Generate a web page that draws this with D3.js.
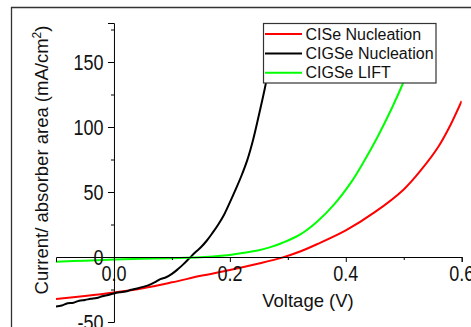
<!DOCTYPE html>
<html><head><meta charset="utf-8">
<script src="https://cdn.jsdelivr.net/npm/d3@7/dist/d3.min.js"></script>
<style>html,body{margin:0;padding:0;background:#fff;}svg{display:block;font-family:"Liberation Sans",Arial,sans-serif;}</style>
</head><body>
<svg id="c" width="471" height="327"></svg>
<script>
const seriesNames = ["CISe Nucleation", "CIGSe Nucleation", "CIGSe LIFT"];
const seriesColors = ["#ff0000", "#000000", "#00ff00"];
// [voltage V, current density mA/cm2]
const ciseNucleation = [[-0.10,-32.3],[-0.05,-30],[0.0,-27.3],[0.05,-24],[0.10,-19.5],[0.15,-14.5],[0.20,-10],[0.25,-5],[0.29,-0.5],[0.32,4],[0.35,9.8],[0.40,20.5],[0.45,34.5],[0.50,52],[0.53,67],[0.56,85],[0.58,101],[0.60,120]];
const cigseNucleation = [[-0.10,-38],[-0.09,-37.3],[-0.08,-35.6],[-0.07,-35.2],[-0.06,-33.6],[-0.05,-33],[-0.04,-32.2],[-0.03,-31.6],[-0.02,-30.2],[-0.01,-29.2],[0.0,-28],[0.01,-27.2],[0.02,-26.6],[0.03,-25.2],[0.04,-24.2],[0.05,-23],[0.06,-21.6],[0.07,-19.6],[0.08,-17],[0.09,-15.6],[0.10,-13],[0.11,-9.5],[0.12,-5.5],[0.13,-1],[0.14,3.5],[0.15,7.5],[0.16,12.5],[0.17,18.5],[0.18,25],[0.19,32.5],[0.20,42],[0.21,52],[0.22,62.5],[0.23,74.5],[0.24,90],[0.25,109],[0.26,129],[0.27,152],[0.28,178],[0.29,205]];
const cigseLift = [[-0.10,-3.6],[-0.05,-2.8],[0.0,-2],[0.05,-1.4],[0.10,-0.9],[0.15,-0.2],[0.19,1.2],[0.22,3],[0.25,5.2],[0.27,7.6],[0.29,10.8],[0.32,17],[0.35,27],[0.38,40.5],[0.41,58],[0.43,72.5],[0.455,92.5],[0.48,115],[0.50,135],[0.52,158],[0.54,183]];
const xMajorTicks = [0.0, 0.2, 0.4, 0.6];
const xMinorTicks = [0.1, 0.3, 0.5];
const yMajorTicks = [-50, 0, 50, 100, 150];
const yMinorTicks = [-25, 25, 75, 125, 175];
const xTitle = "Voltage (V)";

const svg = d3.select("#c");
const x = d3.scaleLinear().domain([-0.1, 0.6]).range([56, 461.7]);
const y = d3.scaleLinear().domain([-50, 180]).range([322, 23]);

// page frame
svg.append("line").attr("x1",11).attr("x2",471).attr("y1",7.5).attr("y2",7.5).attr("stroke","#333").attr("stroke-width",1.3);
svg.append("line").attr("x1",11.5).attr("x2",11.5).attr("y1",7).attr("y2",327).attr("stroke","#333").attr("stroke-width",1.3);

svg.append("defs").append("clipPath").attr("id","clip").append("rect")
  .attr("x",56).attr("y",23).attr("width",461.7-56).attr("height",322-23);

// curves
const line = d3.line().x(d=>x(d[0])).y(d=>y(d[1])).curve(d3.curveCatmullRom.alpha(0.5));
const allSeries = [ciseNucleation, cigseNucleation, cigseLift];
const g = svg.append("g").attr("clip-path","url(#clip)");
allSeries.forEach((s,i)=>{
  g.append("path").datum(s).attr("d",line).attr("fill","none")
   .attr("stroke",seriesColors[i]).attr("stroke-width",2).attr("stroke-linejoin","round");
});

// x axis at y=0
svg.append("g").attr("transform",`translate(0,${y(0)})`)
  .call(d3.axisBottom(x).tickValues(xMajorTicks).tickSize(5).tickFormat(""));
svg.append("g").attr("transform",`translate(0,${y(0)})`)
  .call(d3.axisBottom(x).tickValues(xMinorTicks).tickSize(3).tickFormat("")).select(".domain").remove();
xMajorTicks.forEach(t=>{
  svg.append("text").attr("transform",`translate(${x(t)},273.5) scale(1,1.22)`)
    .attr("text-anchor","middle").attr("dy","0.36em").attr("font-size",18).attr("fill","#111")
    .text(d3.format(".1f")(t));
});

// y axis at x=0
svg.append("g").attr("transform",`translate(${x(0)},0)`)
  .call(d3.axisLeft(y).tickValues(yMajorTicks).tickSize(6).tickFormat(""));
svg.append("g").attr("transform",`translate(${x(0)},0)`)
  .call(d3.axisLeft(y).tickValues(yMinorTicks).tickSize(3).tickFormat("")).select(".domain").remove();
yMajorTicks.forEach(t=>{
  svg.append("text").attr("transform",`translate(103.5,${y(t)}) scale(1,1.22)`)
    .attr("text-anchor","end").attr("dy","0.36em").attr("font-size",18).attr("fill","#111")
    .text(t);
});
svg.selectAll(".domain").attr("stroke","#000");
svg.selectAll(".tick line").attr("stroke","#000");

// axis titles
svg.append("text").attr("x",308).attr("y",306.5).attr("text-anchor","middle")
  .attr("font-size",18.5).attr("fill","#111").text(xTitle);
const yt = svg.append("text").attr("transform","translate(48,160) rotate(-90)")
  .attr("text-anchor","middle").attr("font-size",18.5).attr("fill","#111");
yt.append("tspan").text("Current/ absorber area (mA/cm");
yt.append("tspan").attr("font-size",12).attr("dy",-7).text("2");
yt.append("tspan").attr("dy",7).text(")");

// legend
const lg = svg.append("g");
lg.append("rect").attr("x",263.5).attr("y",23.5).attr("width",172.5).attr("height",59.5)
  .attr("fill","#fff").attr("stroke","#333").attr("stroke-width",1.2);
seriesNames.forEach((n,i)=>{
  const yy = 34 + i*19.4;
  lg.append("line").attr("x1",265).attr("x2",302).attr("y1",yy).attr("y2",yy)
    .attr("stroke",seriesColors[i]).attr("stroke-width",2);
  lg.append("text").attr("x",305.5).attr("y",yy+5.6).attr("font-size",16).attr("fill","#111").text(n);
});
</script>
</body></html>
